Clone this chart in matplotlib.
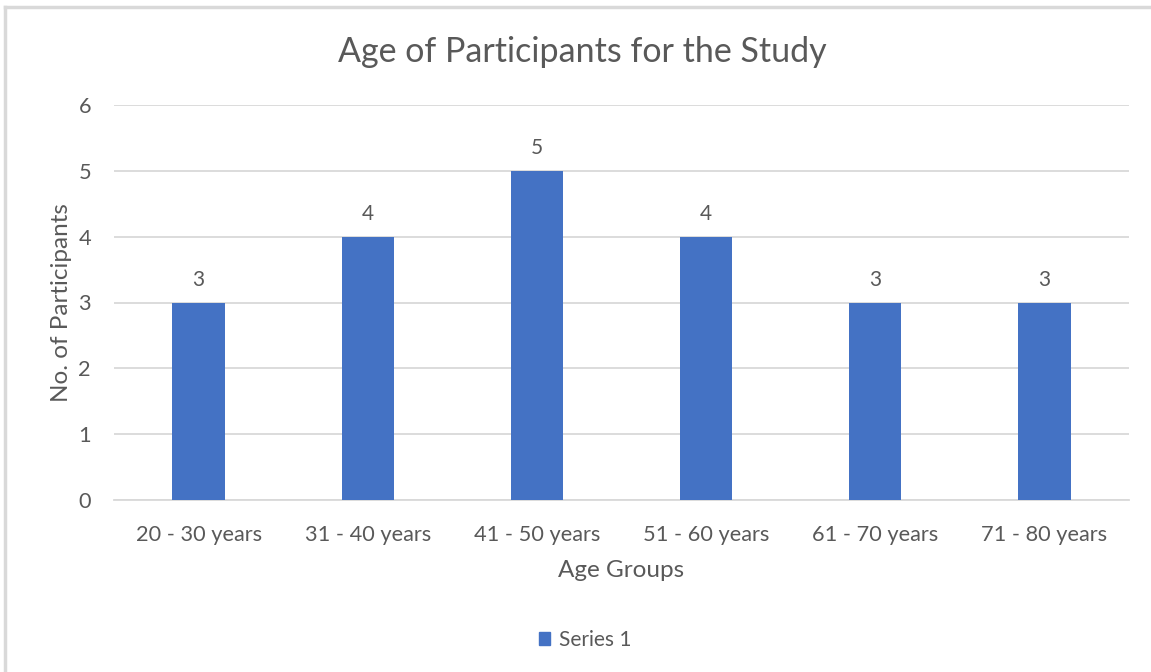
import matplotlib.pyplot as plt
from matplotlib.lines import Line2D
from matplotlib.patches import Patch

plt.rcParams['font.family'] = ['Lato', 'DejaVu Sans']

categories = ["20 - 30 years", "31 - 40 years", "41 - 50 years",
              "51 - 60 years", "61 - 70 years", "71 - 80 years"]
participants = [3, 4, 5, 4, 3, 3]
y_ticks = [0, 1, 2, 3, 4, 5, 6]

bar_color = "#4472C4"
text_color = "#595959"
grid_color = "#D9D9D9"

W, H = 1151, 672
fig = plt.figure(figsize=(W / 100, H / 100), dpi=100)
ax = fig.add_axes([114 / W, 1 - 500 / H, (1129 - 114) / W, (500 - 105) / H])

x = list(range(len(categories)))
bars = ax.bar(x, participants, width=0.31, color=bar_color, zorder=3)
for xi, v in zip(x, participants):
    ax.annotate(str(v), (xi, v), xytext=(0, 9), textcoords="offset points",
                ha="center", va="bottom", fontsize=15, color=text_color)

ax.set_xlim(-0.5, len(categories) - 0.5)
ax.set_ylim(0, 6)
ax.set_yticks(y_ticks)
ax.set_xticks(x)
ax.set_xticklabels(categories)
ax.tick_params(axis="both", length=0, labelsize=15.7, colors=text_color)
ax.tick_params(axis="y", pad=16.5)
ax.tick_params(axis="x", pad=18)
ax.yaxis.grid(True, color=grid_color, linewidth=1.3, zorder=0)
for side in ["top", "right", "left"]:
    ax.spines[side].set_visible(False)
ax.spines["bottom"].set_color(grid_color)
ax.spines["bottom"].set_linewidth(1.3)

ax.set_xlabel("Age Groups", fontsize=17.5, color=text_color, labelpad=11)
ax.set_ylabel("No. of Participants", fontsize=17.5, color=text_color, labelpad=4.5)

fig.text(582 / W, 1 - 52 / H, "Age of Participants for the Study",
         ha="center", va="center", fontsize=24.5, color=text_color)

fig.legend(handles=[Patch(color=bar_color, label="Series 1")],
           loc="center", bbox_to_anchor=(585 / W, 1 - 640 / H), frameon=False,
           fontsize=15, labelcolor=text_color, handlelength=0.55, handleheight=0.55,
           handletextpad=0.4)

# chart frame (top and left edges)
fig.add_artist(Line2D([5 / W, 1], [1 - 7 / H, 1 - 7 / H], color=grid_color,
                      linewidth=2.5, transform=fig.transFigure))
fig.add_artist(Line2D([5 / W, 5 / W], [0, 1 - 7 / H], color=grid_color,
                      linewidth=2.5, transform=fig.transFigure))

fig.savefig("out.png", dpi=100, facecolor="white")
